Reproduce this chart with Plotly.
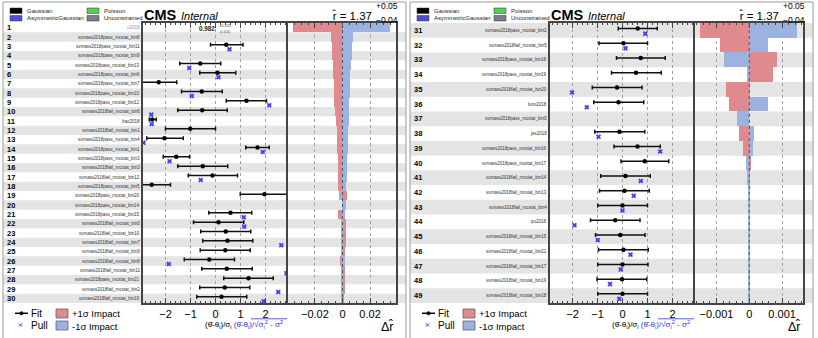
import plotly.graph_objects as go

W, H = 818, 338
def px(x): return x / W
def py(y): return 1 - y / H

# ---------------- data ----------------
left_labels = ["u2018", "svmass2018pass_mcstat_bin8", "svmass2018pass_mcstat_bin11", "svmass2018pass_mcstat_bin9",
               "svmass2018pass_mcstat_bin13", "svmass2018pass_mcstat_bin6", "svmass2018pass_mcstat_bin7",
               "svmass2018pass_mcstat_bin10", "svmass2018pass_mcstat_bin12", "svmass2018fail_mcstat_bin6",
               "frac2018", "svmass2018fail_mcstat_bin1", "svmass2018pass_mcstat_bin4", "svmass2018pass_mcstat_bin1",
               "svmass2018pass_mcstat_bin3", "svmass2018fail_mcstat_bin3", "svmass2018fail_mcstat_bin12",
               "svmass2018pass_mcstat_bin5", "svmass2018pass_mcstat_bin20", "svmass2018pass_mcstat_bin14",
               "svmass2018pass_mcstat_bin15", "svmass2018fail_mcstat_bin0", "svmass2018fail_mcstat_bin10",
               "svmass2018fail_mcstat_bin7", "svmass2018fail_mcstat_bin9", "svmass2018fail_mcstat_bin8",
               "svmass2018fail_mcstat_bin11", "svmass2018pass_mcstat_bin21", "svmass2018fail_mcstat_bin2",
               "svmass2018fail_mcstat_bin16"]
left_fit = [None, None, 0.43, None, -0.61, 0.08, -2.27, -0.55, 1.24, -0.53,
            -2.53, -1.01, -2.04, 1.68, -1.57, -0.51, -0.12, -2.55, 1.96, None,
            0.60, 0.12, 0.41, 0.48, 0.39, -0.25, 0.45, 1.32, 0.37, 0.24]
left_lo = [None, None, -0.20, None, -1.43, -0.63, -2.95, -1.36, 0.43, -1.51,
           -2.65, -2.00, -2.75, 1.21, -2.09, -1.51, -1.09, -2.95, 0.99, None,
           -0.27, -0.88, -0.59, -0.51, -0.61, -1.25, -0.55, 0.33, -0.63, -0.75]
left_hi = [None, None, 1.10, None, 0.21, 0.81, -1.55, 0.27, 2.04, 0.47,
           -2.37, 0.00, -1.29, 2.15, -1.04, 0.49, 0.88, -1.80, 2.95, None,
           1.45, 1.13, 1.41, 1.49, 1.39, 0.76, 1.47, 2.31, 1.37, 1.25]
left_pull = [None, None, 0.56, None, -1.05, 0.12, None, -0.95, 2.15, -2.57,
             -2.55, None, -2.88, 1.89, -1.84, None, -0.59, None, None, None,
             1.13, 1.15, None, 2.63, None, -1.87, 2.84, None, 2.51, 1.93]
left_imp_up = [-0.0362, -0.0086, -0.0078, -0.0076, -0.0071, -0.0066, -0.0063, -0.0060, -0.0058, -0.0052,
               -0.0044, -0.0042, -0.0039, -0.0037, -0.0034, -0.0032, -0.0031, -0.0029, 0.0032, -0.0003,
               -0.0029, 0.0027, 0.0024, 0.0022, 0.0020, -0.0017, 0.0015, 0.0015, 0.0015, 0.0012]
left_imp_down = [0.0347, 0.0073, 0.0070, 0.0066, 0.0061, 0.0056, 0.0054, 0.0051, 0.0049, 0.0046,
                 0.0044, 0.0042, 0.0039, 0.0037, 0.0034, 0.0032, 0.0031, 0.0029, -0.0024, 0.0027,
                 0.0020, -0.0012, -0.0012, -0.0012, -0.0010, 0.0020, -0.0010, -0.0010, -0.0012, -0.0010]

right_labels = ["svmass2018pass_mcstat_bin2", "svmass2018fail_mcstat_bin5", "svmass2018pass_mcstat_bin18",
                "svmass2018pass_mcstat_bin19", "svmass2018fail_mcstat_bin20", "lumi2018",
                "svmass2018pass_mcstat_bin0", "jes2018", "svmass2018pass_mcstat_bin16",
                "svmass2018pass_mcstat_bin17", "svmass2018fail_mcstat_bin14", "svmass2018fail_mcstat_bin13",
                "svmass2018fail_mcstat_bin4", "pu2018", "svmass2018fail_mcstat_bin15",
                "svmass2018fail_mcstat_bin21", "svmass2018fail_mcstat_bin17", "svmass2018fail_mcstat_bin19",
                "svmass2018fail_mcstat_bin18"]
right_fit = [0.61, 0.04, 0.73, 0.54, -0.22, -0.16, None, -0.12, 0.60, 0.89,
             0.12, 0.08, 0.00, -0.29, -0.09, 0.04, 0.00, -0.02, 0.00]
right_lo = [-0.17, -0.94, -0.24, -0.44, -1.21, -1.15, None, -1.11, -0.34, -0.06,
            -0.87, -0.92, -0.99, -1.28, -1.08, -0.96, -0.99, -1.02, -0.99]
right_hi = [1.39, 1.00, 1.71, 1.55, 0.78, 0.85, None, 0.89, 1.51, 1.85,
            1.11, 1.07, 1.00, 0.70, 0.90, 1.03, 1.02, 0.97, 1.00]
right_pull = [0.91, 0.12, None, None, -2.02, -1.43, None, -0.96, 1.51, None,
              0.73, 0.45, 0.00, -1.92, -0.99, 0.32, -0.07, -0.50, -0.13]
right_imp_up = [-0.00149, -0.00089, 0.00085, 0.00073, -0.00072, -0.00061, 0.0, -0.00030, -0.00019, 0.00006,
                0.00002, 0.00001, 0.00001, 0.00001, 0.00001, 0.00001, 0.00001, 0.00001, 0.00001]
right_imp_down = [0.00144, 0.00057, -0.00078, -0.00007, 0.00002, 0.00056, -0.00038, 0.00013, 0.00011, -0.00009,
                  -0.00007, -0.00005, -0.00005, -0.00002, -0.00002, -0.00002, -0.00002, -0.00002, -0.00002]

row1_value = "0.982"
row1_up = "+0.011"
row1_dn = "-0.010"
r_hat = "1.37"
r_up = "+0.05"
r_dn = "−0.04"
pull_ticks = [-2, -1, 0, 1, 2]
pull_ticktext = ["−2", "−1", "0", "1", "2"]
left_imp_ticks = [-0.02, 0, 0.02]
left_imp_ticktext = ["−0.02", "0", "0.02"]
right_imp_ticks = [-0.001, 0, 0.001]
right_imp_ticktext = ["−0.001", "0", "0.001"]

RED = "#df8a8e"
BLUE = "#9cb2e0"
PULLC = "#3d3dff"
FONT = "Liberation Sans, Arial, sans-serif"

fig = go.Figure()
shapes = []
annotations = []

Y0, Y1 = 23, 303
ydom = [py(Y1), py(Y0)]


def ann(x, y, text, size, color="black", xanchor="left", xref="paper", yref="paper"):
    annotations.append(dict(xref=xref, yref=yref, x=x, y=y, text=text, showarrow=False,
                            xanchor=xanchor, yanchor="middle", font=dict(size=size, color=color, family=FONT)))


def panel(dx, labels, fit, lo, hi, pull, imp_up, imp_down, first_row, shade_parity,
          xa, ya, xb, yb, imp_range, imp_ticks, imp_ticktext, imp_dtick, fit_off, pull_off):
    n = len(labels)
    rows = list(range(1, n + 1))
    xa_s, xb_s = xa.replace("axis", ""), xb.replace("axis", "")
    for i in rows:
        if i % 2 == shade_parity:
            shapes.append(dict(type="rect", xref="paper", yref=ya, x0=px(3 + dx), x1=px(406 + dx),
                               y0=i - 0.5, y1=i + 0.5, fillcolor="#e4e4e4", line=dict(width=0), layer="below"))
        ann(px(5 + dx), i, "<b>%d</b>" % (first_row + i - 1), 7.5, yref=ya)
        col = "#8a8ab0" if (first_row == 1 and i == 1) else "#333333"
        ann(px(141.5 + dx), i, labels[i - 1], 4.5, color=col, xanchor="right", yref=ya)
    fx, fy, ep, em = [], [], [], []
    for i, (f, l, h) in enumerate(zip(fit, lo, hi)):
        if f is None:
            continue
        fx.append(f); fy.append(i + 1 + fit_off); ep.append(h - f); em.append(f - l)
    fig.add_trace(go.Scatter(x=fx, y=fy, mode="markers", xaxis=xa_s, yaxis=ya,
                             marker=dict(symbol="circle", size=4.5, color="black"),
                             error_x=dict(type="data", symmetric=False, array=ep, arrayminus=em,
                                          color="#111", thickness=1.5, width=2), hoverinfo="skip"))
    qx = [p for p in pull if p is not None]
    qy = [i + 1 + pull_off for i, p in enumerate(pull) if p is not None]
    fig.add_trace(go.Scatter(x=qx, y=qy, mode="markers", xaxis=xa_s, yaxis=ya,
                             marker=dict(symbol="x", size=4.5, color=PULLC, line=dict(width=0)), hoverinfo="skip"))
    fig.add_trace(go.Bar(x=imp_up, y=rows, orientation="h", xaxis=xb_s, yaxis=yb,
                         marker=dict(color=RED, line=dict(width=0)), width=1.0, hoverinfo="skip"))
    fig.add_trace(go.Bar(x=imp_down, y=rows, orientation="h", xaxis=xb_s, yaxis=yb,
                         marker=dict(color=BLUE, line=dict(width=0)), width=1.0, hoverinfo="skip"))
    shapes.append(dict(type="line", xref=xb_s, yref="paper", x0=0, x1=0, y0=ydom[0], y1=ydom[1],
                       line=dict(color="#555", width=1, dash="dot"), layer="above"))

    axcommon = dict(showline=True, linecolor="#444", linewidth=1.5, mirror="ticks", ticks="inside",
                    ticklen=5, tickwidth=1, tickcolor="#444", showgrid=True, gridcolor="#a0a0a0",
                    griddash="dot", gridwidth=1, zeroline=False,
                    tickfont=dict(size=11, color="black", family=FONT))
    ycommon = dict(domain=ydom, range=[n + 0.5, 0.5], showticklabels=False, ticks="", showgrid=False,
                   zeroline=False, showline=True, linecolor="#444", linewidth=1.5, fixedrange=True)
    fig.layout[xa] = dict(domain=[px(143 + dx), px(288 + dx)], anchor=ya,
                          range=[-2.9, 2.9], tickmode="array", tickvals=pull_ticks, ticktext=pull_ticktext,
                          minor=dict(tickmode="linear", tick0=0, dtick=0.2, ticks="inside", ticklen=2.5,
                                     tickcolor="#444", showgrid=False), **axcommon)
    fig.layout[xb] = dict(domain=[px(288 + dx), px(396 + dx)], anchor=yb,
                          range=imp_range, tickmode="array", tickvals=imp_ticks, ticktext=imp_ticktext,
                          minor=dict(tickmode="linear", tick0=0, dtick=imp_dtick, ticks="inside", ticklen=2.5,
                                     tickcolor="#444", showgrid=False), **axcommon)
    fig.layout["yaxis" + ya[1:]] = dict(anchor=xa_s, mirror=False, **ycommon)
    fig.layout["yaxis" + yb[1:]] = dict(anchor=xb_s, matches=ya, mirror=True, **ycommon)

    shapes.append(dict(type="rect", xref="paper", yref="paper", x0=px(3 + dx), x1=px(406 + dx), y0=py(340), y1=py(2),
                       line=dict(color="#9a9a9a", width=1), fillcolor="rgba(0,0,0,0)", layer="above"))

    boxes = [(10, 8, "black", "Gaussian"), (10, 15.5, "#4d4dd9", "AsymmetricGaussian"),
             (87, 8, "#52d052", "Poisson"), (87, 15.5, "#7c7c8e", "Unconstrained")]
    for bx, by, c, t in boxes:
        shapes.append(dict(type="rect", xref="paper", yref="paper", x0=px(bx + dx), x1=px(bx + 12 + dx),
                           y0=py(by + 5.5), y1=py(by), fillcolor=c, line=dict(color="#333", width=0.5)))
        ann(px(bx + 14.5 + dx), py(by + 2.9), t, 6, color="#222")
    ann(px(142 + dx), py(14.8), "<b>CMS</b>", 14.5)
    ann(px(179 + dx), py(16), "<i>Internal</i>", 11)
    ann(px(374 + dx), py(15.5), "r̂ = " + r_hat, 11.5, xanchor="right")
    ann(px(373.5 + dx), py(6), r_up, 8.5)
    ann(px(373.5 + dx), py(19.5), r_dn, 8.5)

    shapes.append(dict(type="line", xref="paper", yref="paper", x0=px(15 + dx), x1=px(28 + dx), y0=py(313.3), y1=py(313.3),
                       line=dict(color="black", width=1.5)))
    shapes.append(dict(type="circle", xref="paper", yref="paper", x0=px(19.8 + dx), x1=px(23.2 + dx), y0=py(315), y1=py(311.6),
                       fillcolor="black", line=dict(color="black", width=0.5)))
    for (a, b) in [((-1.6, -1.6), (1.6, 1.6)), ((-1.6, 1.6), (1.6, -1.6))]:
        shapes.append(dict(type="line", xref="paper", yref="paper", x0=px(20.5 + a[0] + dx), x1=px(20.5 + b[0] + dx),
                           y0=py(325 + a[1]), y1=py(325 + b[1]), line=dict(color=PULLC, width=1)))
    ann(px(29 + dx), py(313.5), "Fit", 10)
    ann(px(29 + dx), py(325.5), "Pull", 10)
    shapes.append(dict(type="rect", xref="paper", yref="paper", x0=px(56 + dx), x1=px(68 + dx), y0=py(318), y1=py(309),
                       fillcolor=RED, line=dict(color="#555", width=0.7)))
    shapes.append(dict(type="rect", xref="paper", yref="paper", x0=px(56 + dx), x1=px(68 + dx), y0=py(330), y1=py(321),
                       fillcolor=BLUE, line=dict(color="#555", width=0.7)))
    ann(px(70 + dx), py(313.8), "+1σ Impact", 9.5)
    ann(px(70 + dx), py(326), "-1σ Impact", 9.5)
    title = ('(θ̂-θ<sub>i</sub>)/σ<sub>i</sub> <span style="color:#3030f0">(θ̂-θ<sub>i</sub>)/√σ'
             '<sub>i</sub><sup>2</sup> - σ<sup>2</sup></span>')
    ann(px(203 + dx), py(324), title, 8)
    shapes.append(dict(type="line", xref="paper", yref="paper", x0=px(251 + dx), x1=px(287 + dx), y0=py(318.8), y1=py(318.8),
                       line=dict(color="#3030f0", width=0.8)))
    ann(px(387 + dx), py(326), "Δr̂", 12.5, xanchor="center")


panel(0, left_labels, left_fit, left_lo, left_hi, left_pull, left_imp_up, left_imp_down, 1, 0,
      "xaxis", "y", "xaxis2", "y2", [-0.0395, 0.0388], left_imp_ticks, left_imp_ticktext, 0.005, -0.16, 0.32)
panel(407, right_labels, right_fit, right_lo, right_hi, right_pull, right_imp_up, right_imp_down, 31, 1,
      "xaxis3", "y3", "xaxis4", "y4", [-0.001655, 0.001637], right_imp_ticks, right_imp_ticktext, 0.0002, -0.12, 0.22)

ann(px(216.5), py(28.5), "<b>" + row1_value + "</b>", 6.3, color="#222", xanchor="right")
ann(px(216.5), py(25.5), row1_up, 4, color="#444")
ann(px(216.5), py(31), row1_dn, 4, color="#444")

fig.update_layout(width=W, height=H, margin=dict(l=0, r=0, t=0, b=0), paper_bgcolor="white",
                  plot_bgcolor="rgba(0,0,0,0)", showlegend=False, barmode="overlay", bargap=0,
                  shapes=shapes, annotations=annotations, font=dict(family=FONT))
fig.write_html("out.html")
